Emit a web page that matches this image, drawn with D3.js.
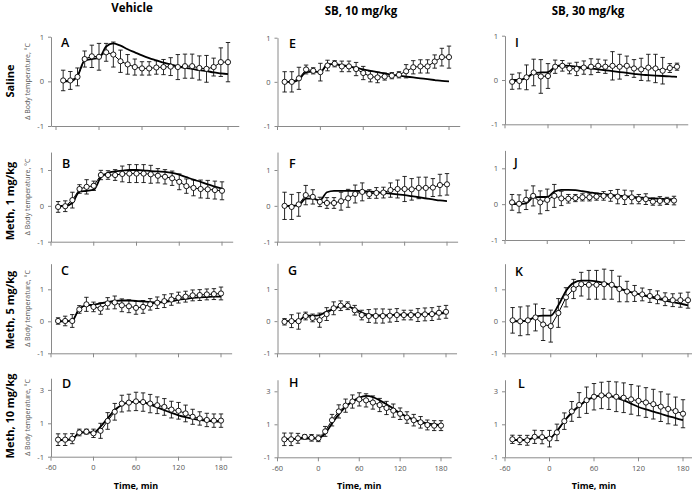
<!DOCTYPE html>
<html>
<head>
<meta charset="utf-8">
<title>Body temperature</title>
<style>
  body { margin: 0; background: #fff; }
  svg text { font-family: "Open Sans", "Noto Sans", sans-serif; }
</style>
</head>
<body>
<script src="https://cdn.jsdelivr.net/npm/d3@7"></script>
<script>
var width = 692, height = 491;

// time after injection, min
var times = [-50,-40,-30,-20,-10,0,10,20,30,40,50,60,70,80,90,100,110,120,130,140,150,160,170,180];
var xTicks = [-60, 0, 60, 120, 180];
var yTicksLow = [-1, 0, 1];
var yTicksHigh = [-1, 1, 3];
var colTitles = ["Vehicle", "SB, 10 mg/kg", "SB, 30 mg/kg"];
var rowTitles = ["Saline", "Meth, 1 mg/kg", "Meth, 5 mg/kg", "Meth, 10 mg/kg"];
var panelLetters = ["A","B","C","D","E","F","G","H","I","J","K","L"];

// mean, error and model fit for each panel
var aMean = [0.02,0.02,0.1,0.5,0.56,0.55,0.65,0.6,0.45,0.38,0.32,0.29,0.29,0.31,0.32,0.33,0.32,0.34,0.34,0.3,0.28,0.32,0.43,0.43];
var aErr  = [0.23,0.2,0.2,0.18,0.25,0.3,0.2,0.28,0.25,0.22,0.18,0.15,0.15,0.15,0.17,0.2,0.28,0.27,0.27,0.27,0.3,0.2,0.32,0.44];
var aFit  = [0,0,0.12,0.47,0.5,0.52,0.78,0.85,0.8,0.72,0.65,0.58,0.52,0.47,0.42,0.38,0.34,0.3,0.28,0.25,0.23,0.2,0.18,0.16];

var bMean = [-0.03,-0.01,0.16,0.47,0.53,0.56,0.86,0.86,0.86,0.89,0.9,0.9,0.9,0.88,0.84,0.81,0.77,0.67,0.55,0.5,0.47,0.46,0.44,0.42];
var bErr  = [0.15,0.15,0.22,0.12,0.2,0.13,0.13,0.12,0.15,0.22,0.25,0.25,0.25,0.25,0.2,0.2,0.2,0.22,0.2,0.22,0.25,0.25,0.25,0.25];
var bFit  = [0,0,0.08,0.4,0.42,0.45,0.8,0.92,0.96,0.98,1.0,1.0,0.99,0.97,0.96,0.95,0.92,0.87,0.8,0.73,0.67,0.6,0.54,0.48];

var cMean = [0.01,0.01,0.01,0.37,0.53,0.45,0.4,0.56,0.59,0.5,0.47,0.42,0.45,0.53,0.58,0.63,0.68,0.74,0.77,0.81,0.82,0.84,0.85,0.87];
var cErr  = [0.1,0.15,0.2,0.12,0.22,0.15,0.18,0.18,0.2,0.2,0.2,0.2,0.2,0.18,0.18,0.2,0.18,0.17,0.17,0.17,0.17,0.17,0.17,0.2];
var cFit  = [0,0,0.02,0.4,0.5,0.52,0.56,0.6,0.64,0.65,0.65,0.64,0.62,0.6,0.59,0.6,0.63,0.67,0.7,0.73,0.75,0.76,0.77,0.77];

var dMean = [0.02,0.02,0.08,0.45,0.5,0.4,0.55,1.14,1.69,2.18,2.24,2.31,2.27,2.18,2.08,1.98,1.82,1.75,1.59,1.39,1.29,1.2,1.16,1.16];
var dErr  = [0.35,0.35,0.3,0.2,0.15,0.25,0.45,0.5,0.5,0.5,0.5,0.55,0.55,0.55,0.5,0.5,0.5,0.5,0.5,0.45,0.4,0.4,0.4,0.4];
var dFit  = [0,0,0.02,0.45,0.45,0.45,0.8,1.3,1.8,2.1,2.25,2.3,2.25,2.12,1.95,1.78,1.62,1.48,1.37,1.28,1.2,1.15,1.12,1.1];

var eMean = [0,0,0.08,0.28,0.25,0.22,0.37,0.41,0.35,0.35,0.29,0.2,0.12,0.1,0.12,0.14,0.16,0.24,0.33,0.35,0.35,0.46,0.56,0.56];
var eErr  = [0.23,0.23,0.25,0.1,0.07,0.2,0.12,0.07,0.12,0.12,0.15,0.15,0.12,0.12,0.08,0.07,0.07,0.15,0.15,0.15,0.15,0.15,0.2,0.25];
var eFit  = [0,0,0.05,0.22,0.23,0.22,0.4,0.4,0.38,0.35,0.32,0.28,0.25,0.22,0.19,0.16,0.14,0.12,0.1,0.08,0.06,0.04,0.02,0.01];

var fMean = [0,-0.03,0.04,0.3,0.25,0.11,0.08,0.08,0.13,0.21,0.33,0.39,0.33,0.36,0.37,0.44,0.47,0.47,0.46,0.5,0.5,0.51,0.58,0.6];
var fErr  = [0.38,0.35,0.33,0.27,0.2,0.13,0.15,0.15,0.25,0.25,0.25,0.25,0.12,0.15,0.15,0.2,0.25,0.35,0.3,0.3,0.3,0.25,0.3,0.3];
var fFit  = [0,0,0.02,0.2,0.2,0.15,0.38,0.42,0.42,0.42,0.42,0.41,0.4,0.38,0.36,0.34,0.32,0.3,0.27,0.24,0.21,0.18,0.15,0.13];

var gMean = [-0.02,0,0,0.16,0.1,0.03,0.22,0.4,0.48,0.48,0.34,0.19,0.16,0.16,0.16,0.17,0.19,0.19,0.19,0.19,0.21,0.22,0.26,0.29];
var gErr  = [0.1,0.2,0.25,0.12,0.12,0.22,0.2,0.2,0.15,0.12,0.15,0.15,0.2,0.22,0.22,0.2,0.2,0.15,0.15,0.2,0.2,0.2,0.2,0.2];
var gFit  = [0,0,0.01,0.17,0.17,0.19,0.3,0.38,0.45,0.45,0.38,0.27,0.2,0.18,0.18,0.19,0.2,0.2,0.21,0.21,0.22,0.23,0.24,0.25];

var hMean = [0.09,0.09,0.15,0.24,0.18,0.15,0.57,1.25,1.78,2.13,2.38,2.51,2.45,2.32,2.17,1.99,1.83,1.64,1.41,1.25,1.12,0.96,0.92,0.92];
var hErr  = [0.38,0.38,0.3,0.12,0.2,0.2,0.3,0.35,0.4,0.4,0.4,0.4,0.4,0.4,0.4,0.4,0.4,0.35,0.35,0.35,0.35,0.3,0.3,0.3];
var hFit  = [0.1,0.1,0.12,0.14,0.14,0.15,0.45,1.05,1.6,2.05,2.4,2.62,2.72,2.65,2.45,2.22,1.95,1.68,1.45,1.29,1.16,1.06,1.0,0.96];

var iMean = [-0.04,-0.02,0.06,0.17,0.08,0.09,0.3,0.32,0.26,0.25,0.28,0.3,0.32,0.3,0.32,0.3,0.32,0.26,0.24,0.28,0.26,0.21,0.27,0.3];
var iErr  = [0.17,0.18,0.28,0.3,0.38,0.28,0.15,0.12,0.12,0.15,0.15,0.18,0.15,0.15,0.32,0.28,0.22,0.2,0.25,0.3,0.32,0.3,0.1,0.08];
var iFit  = [0,0,0.05,0.15,0.17,0.18,0.3,0.33,0.32,0.3,0.28,0.26,0.24,0.22,0.2,0.18,0.16,0.14,0.12,0.11,0.1,0.09,0.08,0.07];

var jMean = [0.05,0.01,0.12,0.23,0.05,0.12,0.23,0.16,0.15,0.17,0.19,0.19,0.21,0.23,0.23,0.21,0.19,0.19,0.14,0.14,0.07,0.09,0.09,0.1];
var jErr  = [0.22,0.25,0.27,0.28,0.32,0.3,0.32,0.2,0.12,0.1,0.1,0.1,0.1,0.12,0.15,0.2,0.2,0.18,0.13,0.15,0.1,0.12,0.1,0.12];
var jFit  = [0,0,0.02,0.19,0.2,0.2,0.35,0.4,0.4,0.39,0.36,0.33,0.3,0.28,0.26,0.24,0.22,0.2,0.19,0.17,0.16,0.15,0.14,0.13];

var kMean = [0.03,0,0.03,0.12,-0.1,-0.15,0.26,0.75,1.01,1.16,1.14,1.14,1.16,1.14,1.01,0.93,0.87,0.84,0.79,0.75,0.69,0.66,0.66,0.66];
var kErr  = [0.4,0.45,0.45,0.42,0.5,0.5,0.45,0.3,0.3,0.37,0.45,0.45,0.47,0.45,0.4,0.32,0.25,0.2,0.2,0.2,0.2,0.2,0.22,0.25];
var kFit  = [0,0,0.02,0.15,0.18,0.18,0.5,0.95,1.2,1.27,1.27,1.25,1.2,1.12,1.03,0.95,0.88,0.82,0.76,0.7,0.65,0.6,0.55,0.5];

var lMean = [0.09,0.05,0.03,0.24,0.22,0.13,0.51,1.19,1.78,2.17,2.46,2.67,2.75,2.75,2.67,2.61,2.51,2.42,2.32,2.22,2.07,1.93,1.8,1.64];
var lErr  = [0.25,0.28,0.3,0.4,0.4,0.5,0.5,0.5,0.6,0.75,0.8,0.8,0.8,0.85,0.9,0.9,0.9,0.9,0.9,0.9,0.9,0.9,0.85,0.85];
var lFit  = [0.05,0.05,0.05,0.2,0.2,0.15,0.6,1.2,1.7,2.1,2.45,2.65,2.75,2.72,2.6,2.45,2.25,2.05,1.9,1.77,1.64,1.5,1.38,1.25];

var means = [aMean,bMean,cMean,dMean,eMean,fMean,gMean,hMean,iMean,jMean,kMean,lMean];
var errs  = [aErr,bErr,cErr,dErr,eErr,fErr,gErr,hErr,iErr,jErr,kErr,lErr];
var fits  = [aFit,bFit,cFit,dFit,eFit,fFit,gFit,hFit,iFit,jFit,kFit,lFit];

// placement of each panel: axis x, pixel of -60 and 180 min, pixel of y=-1 and of y=1
var boxes = [
  {ax:51,  x0:56,    x1:228, y0:126,   y1:36.7,  top:1},
  {ax:51,  x0:51,    x1:222, y0:241.7, y1:170,   top:1.5},
  {ax:51,  x0:51,    x1:221, y0:353.3, y1:289.3, top:1.8},
  {ax:51,  x0:51,    x1:221, y0:456.7, y1:423.3, top:3.7},
  {ax:277.5, x0:277.5, x1:449, y0:126,   y1:37.7,  top:1},
  {ax:277.5, x0:277.5, x1:447, y0:241.7, y1:170,   top:1.5},
  {ax:277.5, x0:277.5, x1:446, y0:353.3, y1:289,   top:1.8},
  {ax:277.5, x0:277.5, x1:441, y0:457.3, y1:424.3, top:3.7},
  {ax:505, x0:505,   x1:677, y0:124.3, y1:35.7,  top:1},
  {ax:505, x0:505,   x1:674, y0:240,   y1:168.3, top:1.5},
  {ax:505, x0:505,   x1:688, y0:353.3, y1:289.3, top:1.8},
  {ax:505, x0:505,   x1:683, y0:457.3, y1:424.3, top:3.7}
];
var letterPos = [[61,47],[62,168],[61,275],[62,388],[289,47.5],[289,168],[288,275],[289,387],[515,46.7],[514,166.7],[515,276],[518,388]];

var svg = d3.select('body')
    .append('svg')
    .attr('width', width)
    .attr('height', height);

var axisColor = '#8a8a8a';
var tickText = '#555';

// column and row titles
svg.selectAll('.coltitle')
    .data(colTitles)
    .enter()
    .append('text')
    .attr('class', 'coltitle')
    .attr('x', function (d, i) { return [132, 361, 588][i]; })
    .attr('y', function (d, i) { return i === 0 ? 12 : 15; })
    .attr('text-anchor', 'middle')
    .attr('font-size', 11.5)
    .attr('font-weight', 'bold')
    .text(function (d) { return d; });

svg.selectAll('.rowtitle')
    .data(rowTitles)
    .enter()
    .append('text')
    .attr('class', 'rowtitle')
    .attr('transform', function (d, i) { return 'translate(14,' + [81, 201, 310, 416][i] + ') rotate(-90)'; })
    .attr('text-anchor', 'middle')
    .attr('font-size', 11)
    .attr('font-weight', 'bold')
    .text(function (d) { return d; });

boxes.forEach(function (b, p) {
    var row = p % 4;
    var big = row === 3;
    var unit = (b.y0 - b.y1) / 2;

    var x = d3.scaleLinear()
        .domain([-60, 180])
        .range([b.x0, b.x1]);
    var xAxisScale = d3.scaleLinear()
        .domain([-60, 195])
        .range([b.ax, b.x0 + (b.x1 - b.x0) * 255 / 240]);
    var y = d3.scaleLinear()
        .domain([-1, b.top])
        .range([b.y0, b.y0 - (b.top + 1) * unit]);

    var g = svg.append('g');

    // y axis
    var ya = g.append('g')
        .attr('transform', 'translate(' + b.ax + ',0)')
        .call(d3.axisLeft(y).tickValues(big ? yTicksHigh : yTicksLow)
            .tickFormat(function (d) { return d; })
            .tickSize(3).tickSizeOuter(0).tickPadding(4));
    ya.selectAll('text').attr('font-size', 7.5).attr('fill', tickText).style('font-family', '"Open Sans", sans-serif');

    // x axis
    var xa = g.append('g')
        .attr('transform', 'translate(0,' + b.y0 + ')')
        .call(d3.axisBottom(xAxisScale).tickValues(xTicks).tickSize(4).tickSizeOuter(0).tickPadding(4)
            .tickFormat(big ? function (d) { return d; } : function () { return ''; }));
    xa.selectAll('.tick').attr('transform', function (d) { return 'translate(' + x(d) + ',0)'; });
    xa.selectAll('text').attr('font-size', 7.5).attr('fill', tickText).style('font-family', '"Open Sans", sans-serif');

    g.selectAll('.domain, .tick line').attr('stroke', axisColor);

    var mean = means[p], err = errs[p], fit = fits[p];
    var pts = times.map(function (t, i) { return {t: t, m: mean[i], e: err[i], f: fit[i]}; });

    // error bars
    var eb = g.selectAll('.eb').data(pts).enter().append('g');
    eb.append('line')
        .attr('x1', function (d) { return x(d.t); })
        .attr('x2', function (d) { return x(d.t); })
        .attr('y1', function (d) { return y(d.m - d.e); })
        .attr('y2', function (d) { return y(d.m + d.e); })
        .attr('stroke', '#111').attr('stroke-width', 0.9);
    [-1, 1].forEach(function (s) {
        eb.append('line')
            .attr('x1', function (d) { return x(d.t) - 2.2; })
            .attr('x2', function (d) { return x(d.t) + 2.2; })
            .attr('y1', function (d) { return y(d.m + s * d.e); })
            .attr('y2', function (d) { return y(d.m + s * d.e); })
            .attr('stroke', '#111').attr('stroke-width', 0.9);
    });

    // model curve
    g.append('path')
        .datum(pts)
        .attr('d', d3.line().curve(d3.curveMonotoneX)
            .x(function (d) { return x(d.t); })
            .y(function (d) { return y(d.f); }))
        .attr('fill', 'none')
        .attr('stroke', '#000')
        .attr('stroke-width', 1.8);

    // observed mean line and markers
    g.append('path')
        .datum(pts)
        .attr('d', d3.line()
            .x(function (d) { return x(d.t); })
            .y(function (d) { return y(d.m); }))
        .attr('fill', 'none')
        .attr('stroke', '#000')
        .attr('stroke-width', 1);

    g.selectAll('.pt').data(pts).enter().append('circle')
        .attr('cx', function (d) { return x(d.t); })
        .attr('cy', function (d) { return y(d.m); })
        .attr('r', 2.6)
        .attr('fill', '#fff')
        .attr('stroke', '#000')
        .attr('stroke-width', 0.9);

    // panel letter
    g.append('text')
        .attr('x', letterPos[p][0])
        .attr('y', letterPos[p][1])
        .attr('font-size', 12.5)
        .attr('font-weight', 600)
        .text(panelLetters[p]);

    if (p < 4) {
        g.append('text')
            .attr('transform', 'translate(30,' + ((b.y0 + y(b.top)) / 2) + ') rotate(-90)')
            .attr('text-anchor', 'middle')
            .attr('font-size', 7)
            .attr('fill', tickText)
            .text('\u0394 Body temperature, \u00B0C');
    }
    if (big) {
        g.append('text')
            .attr('x', (b.x0 + b.x1) / 2)
            .attr('y', 489)
            .attr('text-anchor', 'middle')
            .attr('font-size', 9)
            .attr('font-weight', 'bold')
            .text('Time, min');
    }
});
</script>
</body>
</html>
